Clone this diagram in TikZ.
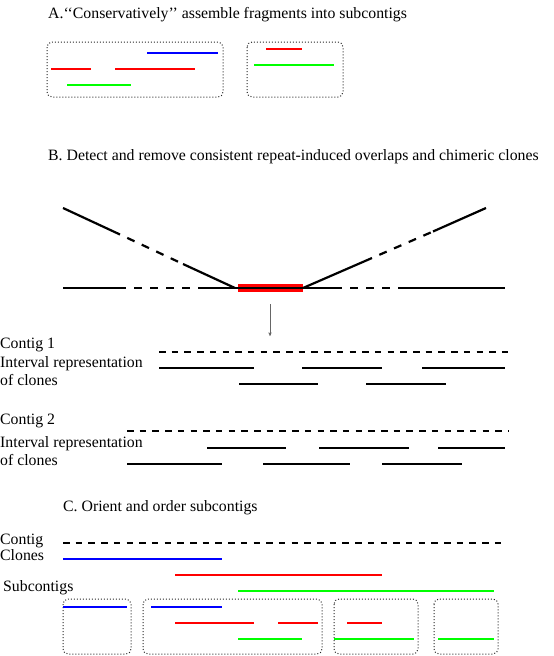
\documentclass[tikz,border=0pt]{standalone}
\usepackage{fontspec}
\setmainfont{Liberation Serif}
\usetikzlibrary{arrows}
\tikzset{
  lbl/.style={anchor=base west, inner sep=0, font=\fontsize{15.8}{18.5}\selectfont},
  subbox/.style={draw=black!85, line width=1pt, dash pattern=on 1pt off 2pt, rounded corners=5pt},
  frag/.style={line width=1.8pt},
  clone/.style={line width=2pt, black},
  contig/.style={line width=1.7pt, black, dash pattern=on 6.5pt off 6.2pt},
  overlap/.style={line width=2.2pt, black},
  gapped/.style={dash pattern=on 8pt off 8pt, dash phase=8pt},
  repeatbar/.style={line width=8pt, red},
  arrow/.style={->,>=stealth', thin, black!60}
}
\begin{document}
\begin{tikzpicture}[x=1pt,y=-1pt]
  \useasboundingbox (0,0) rectangle (554,656);

  % A. subcontigs
  \node[lbl] (titleA) at (48,18) {A.‘‘Conservatively’’ assemble fragments into subcontigs};
  \draw[subbox] (47,42) rectangle (223,97);
  \draw[subbox] (247,42) rectangle (343,97);
  \draw[frag,blue] (147,53) -- (218,53);
  \draw[frag,red] (51,69) -- (91,69);
  \draw[frag,red] (115,69) -- (195,69);
  \draw[frag,green] (67,85) -- (131,85);
  \draw[frag,red] (266,49) -- (302,49);
  \draw[frag,green] (254,65) -- (334,65);

  % B. repeat-induced overlaps
  \node[lbl] (titleB) at (48,160) {B. Detect and remove consistent repeat-induced overlaps and chimeric clones};
  \draw[repeatbar] (238,288) -- (303,288);
  \draw[overlap] (63,288) -- (126,288);
  \draw[overlap,gapped] (126,288) -- (203,288);
  \draw[overlap] (203,288) -- (342,288);
  \draw[overlap,gapped] (342,288) -- (406,288);
  \draw[overlap] (406,288) -- (505,288);
  \draw[overlap] (63,208) -- (120,234.5);
  \draw[overlap,gapped] (120,234.5) -- (183,264);
  \draw[overlap] (183,264) -- (235,288);
  \draw[overlap] (303,288) -- (372,258);
  \draw[overlap,gapped] (372,258) -- (433,231.5);
  \draw[overlap] (433,231.5) -- (486,208);

  \coordinate (split) at (270,304);
  \coordinate (contigs) at (270,336);
  \draw[arrow] (split) -- (contigs);

  % contig 1
  \node[lbl] (contig1) at (0,348.5) {Contig 1};
  \node[lbl] (interval1) at (0,367.5) {Interval representation};
  \node[lbl] (clones1) at (0,385.5) {of clones};
  \draw[contig] (159,352) -- (509,352);
  \draw[clone] (159,368) -- (254,368);
  \draw[clone] (302,368) -- (382,368);
  \draw[clone] (422,368) -- (505,368);
  \draw[clone] (239,384) -- (318,384);
  \draw[clone] (366,384) -- (446,384);

  % contig 2
  \node[lbl] (contig2) at (0,424) {Contig 2};
  \node[lbl] (interval2) at (0,447.5) {Interval representation};
  \node[lbl] (clones2) at (0,465) {of clones};
  \draw[contig] (127,431) -- (509,431);
  \draw[clone] (207,448) -- (286,448);
  \draw[clone] (319,448) -- (409,448);
  \draw[clone] (438,448) -- (505,448);
  \draw[clone] (127,464) -- (222,464);
  \draw[clone] (263,464) -- (350,464);
  \draw[clone] (382,464) -- (462,464);

  % C. orient and order
  \node[lbl] (titleC) at (63,511.5) {C. Orient and order subcontigs};
  \node[lbl] (contigC) at (0,544) {Contig};
  \node[lbl] (clonesC) at (0,560) {Clones};
  \node[lbl] (subcontigs) at (3,591.5) {Subcontigs};
  \draw[contig] (63,543) -- (504,543);
  \draw[frag,blue] (63,559) -- (222,559);
  \draw[frag,red] (175,575) -- (382,575);
  \draw[frag,green] (238,591) -- (494,591);

  \draw[subbox] (63,599) rectangle (131,654);
  \draw[subbox] (143,599) rectangle (322,654);
  \draw[subbox] (334,599) rectangle (418,654);
  \draw[subbox] (434,599) rectangle (498,654);
  \draw[frag,blue] (63,607) -- (127,607);
  \draw[frag,blue] (151,607) -- (222,607);
  \draw[frag,red] (175,623) -- (254,623);
  \draw[frag,red] (278,623) -- (318,623);
  \draw[frag,red] (347,623) -- (382,623);
  \draw[frag,green] (238,639) -- (302,639);
  \draw[frag,green] (334,639) -- (414,639);
  \draw[frag,green] (438,639) -- (494,639);
\end{tikzpicture}
\end{document}
